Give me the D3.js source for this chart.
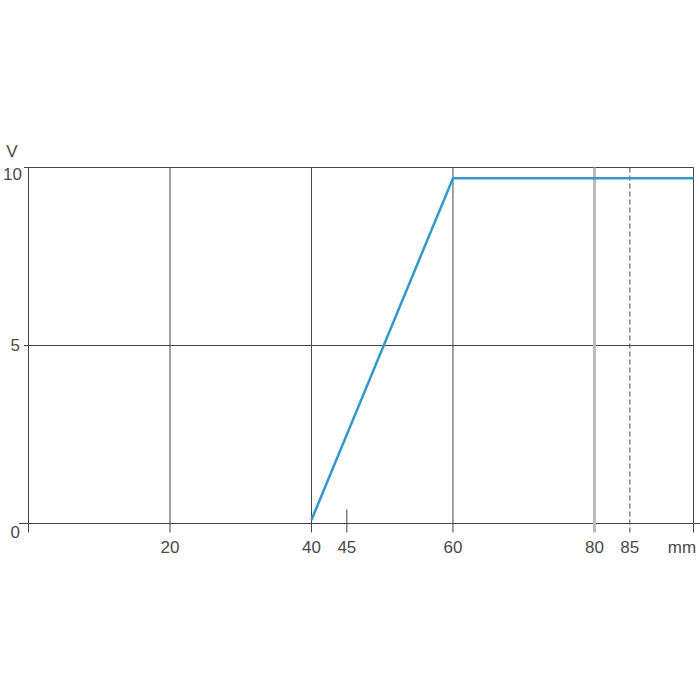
<!DOCTYPE html>
<html><head><meta charset="utf-8">
<script src="https://cdn.jsdelivr.net/npm/d3@7"></script>
<style>body{margin:0;background:#fff}svg{display:block}</style>
</head><body><div id="chart"></div>
<script>
const xTicks = [20, 40, 45, 60, 80, 85];
const yTicks = [0, 5, 10];
const gridX = [20, 40, 60];
const solidGrayX = [80];
const dashedX = [85];
const shortTickX = [45];
const lineX = [40, 60, 94];
const lineY = [0.1, 9.7, 9.7];
const xUnit = "mm", yUnit = "V";

const W = 700, H = 700;
const svg = d3.select("#chart").append("svg").attr("width", W).attr("height", H);
const x = d3.scaleLinear().domain([0, 94]).range([28.5, 693.5]);
const y = d3.scaleLinear().domain([0, 10]).range([523.5, 167.5]);
const font = "Liberation Sans, Arial, sans-serif";
const dark = "#444";
const textCol = "#4a4a4a";
const fs = 17;

// horizontal grid
svg.selectAll(".hg").data(yTicks).join("line")
  .attr("x1", d => d === 0 ? 19 : 24).attr("x2", d => d === 0 ? 700 : x(94))
  .attr("y1", d => y(d)).attr("y2", d => y(d))
  .attr("stroke", dark).attr("stroke-width", 1);
// left axis
svg.append("line").attr("x1", x(0)).attr("x2", x(0)).attr("y1", y(10)).attr("y2", y(0) + 9)
  .attr("stroke", dark);
// right edge
svg.append("line").attr("x1", x(94)).attr("x2", x(94)).attr("y1", y(10)).attr("y2", y(0) + 9)
  .attr("stroke", dark);
// vertical grid
svg.selectAll(".vg").data(gridX).join("line")
  .attr("x1", d => x(d)).attr("x2", d => x(d)).attr("y1", y(10)).attr("y2", y(0) + 9)
  .attr("stroke", dark);
svg.selectAll(".vgray").data(solidGrayX).join("line")
  .attr("x1", d => x(d)).attr("x2", d => x(d)).attr("y1", y(10)).attr("y2", y(0) + 9)
  .attr("stroke", "#bbb").attr("stroke-width", 3);
svg.selectAll(".vd").data(dashedX).join("line")
  .attr("x1", d => x(d)).attr("x2", d => x(d)).attr("y1", y(10)).attr("y2", y(0) + 9)
  .attr("stroke", dark).attr("stroke-dasharray", "5,3");
svg.selectAll(".st").data(shortTickX).join("line")
  .attr("x1", d => x(d)).attr("x2", d => x(d)).attr("y1", y(0) - 14).attr("y2", y(0) + 9)
  .attr("stroke", dark);

// data line
const pts = lineX.map((v, i) => [v, lineY[i]]);
svg.append("path").datum(pts)
  .attr("d", d3.line().x(d => x(d[0])).y(d => y(d[1])))
  .attr("fill", "none").attr("stroke", "#3399cc").attr("stroke-width", 2.5);

// labels
svg.selectAll(".xl").data(xTicks).join("text")
  .attr("x", d => x(d)).attr("y", 553).attr("text-anchor", "middle")
  .attr("font-family", font).attr("font-size", fs).attr("fill", textCol).text(d => d);
svg.append("text").attr("x", 682).attr("y", 553).attr("text-anchor", "middle")
  .attr("font-family", font).attr("font-size", fs).attr("fill", textCol).text(xUnit);
const yOff = {0: 14, 5: 5, 10: 12};
svg.selectAll(".yl").data(yTicks).join("text")
  .attr("x", d => d === 10 ? 22 : 20).attr("y", d => y(d) + yOff[d]).attr("text-anchor", "end")
  .attr("font-family", font).attr("font-size", fs).attr("fill", textCol).text(d => d);
svg.append("text").attr("x", 12).attr("y", 157).attr("text-anchor", "middle")
  .attr("font-family", font).attr("font-size", fs).attr("fill", textCol).text(yUnit);
</script></body></html>
